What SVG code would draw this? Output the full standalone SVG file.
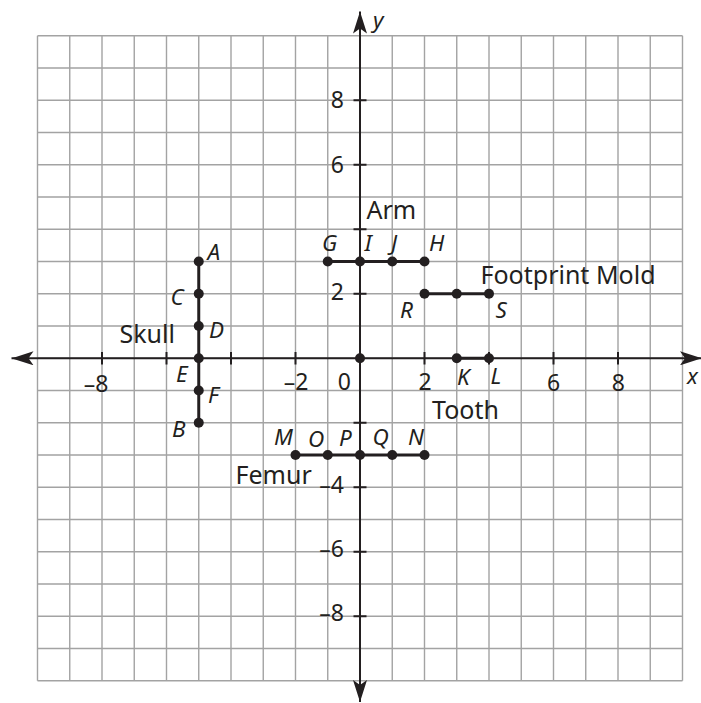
<svg xmlns="http://www.w3.org/2000/svg" width="701" height="703" viewBox="0 0 701 703">
<defs>
<style>
.grid{fill:none;stroke:#a3a3a3;stroke-width:1.4}
.axis{fill:none;stroke:#231f20;stroke-width:2}
.tick{fill:none;stroke:#231f20;stroke-width:2}
.seg{fill:none;stroke:#231f20;stroke-width:3}
.dot{fill:#231f20}
.num{font-family:"Noto Sans","DejaVu Sans",sans-serif;font-size:23px;fill:#231f20}
.lbl{font-family:"Noto Sans","DejaVu Sans",sans-serif;font-size:25px;fill:#231f20}
.pt{font-family:"Noto Sans","DejaVu Sans",sans-serif;font-size:22.5px;font-style:italic;fill:#231f20}
</style>
<marker id="arr" viewBox="0 0 22 14" refX="22" refY="7" markerWidth="22" markerHeight="14" markerUnits="userSpaceOnUse" orient="auto">
<path d="M22,7 L0,0 L5,7 L0,14 Z" fill="#231f20"/>
</marker>
</defs>
<rect width="701" height="703" fill="#ffffff"/>
<g id="grid">
<path class="grid" d="M37.5,35.8V680.8M69.75,35.8V680.8M102,35.8V680.8M134.25,35.8V680.8M166.5,35.8V680.8M198.75,35.8V680.8M231,35.8V680.8M263.25,35.8V680.8M295.5,35.8V680.8M327.75,35.8V680.8M360,35.8V680.8M392.25,35.8V680.8M424.5,35.8V680.8M456.75,35.8V680.8M489,35.8V680.8M521.25,35.8V680.8M553.5,35.8V680.8M585.75,35.8V680.8M618,35.8V680.8M650.25,35.8V680.8M682.5,35.8V680.8"/>
<path class="grid" d="M37.5,35.8H682.5M37.5,68.05H682.5M37.5,100.3H682.5M37.5,132.55H682.5M37.5,164.8H682.5M37.5,197.05H682.5M37.5,229.3H682.5M37.5,261.55H682.5M37.5,293.8H682.5M37.5,326.05H682.5M37.5,358.3H682.5M37.5,390.55H682.5M37.5,422.8H682.5M37.5,455.05H682.5M37.5,487.3H682.5M37.5,519.55H682.5M37.5,551.8H682.5M37.5,584.05H682.5M37.5,616.3H682.5M37.5,648.55H682.5M37.5,680.8H682.5"/>
</g>
<g id="axes">
<line class="axis" x1="360" y1="358.3" x2="11.5" y2="358.3" marker-end="url(#arr)"/>
<line class="axis" x1="360" y1="358.3" x2="702" y2="358.3" marker-end="url(#arr)"/>
<line class="axis" x1="360" y1="358.3" x2="360" y2="11.5" marker-end="url(#arr)"/>
<line class="axis" x1="360" y1="358.3" x2="360" y2="702" marker-end="url(#arr)"/>
<path class="tick" d="M102,352V364.6M166.5,352V364.6M231,352V364.6M295.5,352V364.6M424.5,352V364.6M489,352V364.6M553.5,352V364.6M618,352V364.6"/>
<path class="tick" d="M353.5,100.3H366.5M353.5,164.8H366.5M353.5,229.3H366.5M353.5,293.8H366.5M353.5,422.8H366.5M353.5,487.3H366.5M353.5,551.8H366.5M353.5,616.3H366.5"/>
<text class="num" x="344" y="108.3" text-anchor="end">8</text>
<text class="num" x="344" y="172.5" text-anchor="end">6</text>
<text class="num" x="344" y="300" text-anchor="end">2</text>
<text class="num" x="344" y="492.5" text-anchor="end">–4</text>
<text class="num" x="344" y="557" text-anchor="end">–6</text>
<text class="num" x="344" y="621.3" text-anchor="end">–8</text>
<text class="num" x="108.5" y="391.5" text-anchor="end">–8</text>
<text class="num" x="308.5" y="389.5" text-anchor="end">–2</text>
<text class="num" x="344.3" y="389.5" text-anchor="middle">0</text>
<text class="num" x="425" y="389.5" text-anchor="middle">2</text>
<text class="num" x="553.7" y="391" text-anchor="middle">6</text>
<text class="num" x="618.3" y="391" text-anchor="middle">8</text>
<text class="pt" x="687" y="384">x</text>
<text class="pt" x="373" y="28.3">y</text>
</g>
<g id="connectors">
<line class="seg" x1="198.75" y1="261.55" x2="198.75" y2="422.8"/>
<line class="seg" x1="327.75" y1="261.55" x2="424.5" y2="261.55"/>
<line class="seg" x1="424.5" y1="293.8" x2="489" y2="293.8"/>
<line class="seg" x1="456.75" y1="358.3" x2="489" y2="358.3"/>
<line class="seg" x1="295.5" y1="455.05" x2="424.5" y2="455.05"/>
</g>
<g id="skull">
<circle class="dot" cx="198.75" cy="261.55" r="5"/>
<circle class="dot" cx="198.75" cy="293.8" r="5"/>
<circle class="dot" cx="198.75" cy="326.05" r="5"/>
<circle class="dot" cx="198.75" cy="358.3" r="5"/>
<circle class="dot" cx="198.75" cy="390.55" r="5"/>
<circle class="dot" cx="198.75" cy="422.8" r="5"/>
<text class="pt" x="207.5" y="260">A</text>
<text class="pt" x="170.5" y="305">C</text>
<text class="pt" x="209" y="337.5">D</text>
<text class="pt" x="176" y="381.7">E</text>
<text class="pt" x="208" y="403.3">F</text>
<text class="pt" x="172" y="436.7">B</text>
<text class="lbl" x="119.5" y="343.3">Skull</text>
</g>
<g id="arm">
<circle class="dot" cx="327.75" cy="261.55" r="5"/>
<circle class="dot" cx="360" cy="261.55" r="5"/>
<circle class="dot" cx="392.25" cy="261.55" r="5"/>
<circle class="dot" cx="424.5" cy="261.55" r="5"/>
<text class="pt" x="322" y="250.7">G</text>
<text class="pt" x="364.5" y="250.7">I</text>
<text class="pt" x="391" y="250.7">J</text>
<text class="pt" x="429" y="250.7">H</text>
<text class="lbl" x="366.5" y="219.3">Arm</text>
</g>
<g id="footprint-mold">
<circle class="dot" cx="424.5" cy="293.8" r="5"/>
<circle class="dot" cx="456.75" cy="293.8" r="5"/>
<circle class="dot" cx="489" cy="293.8" r="5"/>
<text class="pt" x="400" y="318.3">R</text>
<text class="pt" x="495.5" y="318.3">S</text>
<text class="lbl" x="480.5" y="284">Footprint Mold</text>
</g>
<g id="tooth">
<circle class="dot" cx="360" cy="358.3" r="5"/>
<circle class="dot" cx="456.75" cy="358.3" r="5"/>
<circle class="dot" cx="489" cy="358.3" r="5"/>
<text class="pt" x="457" y="385">K</text>
<text class="pt" x="490.5" y="384.3">L</text>
<text class="lbl" x="432" y="419">Tooth</text>
</g>
<g id="femur">
<circle class="dot" cx="295.5" cy="455.05" r="5"/>
<circle class="dot" cx="327.75" cy="455.05" r="5"/>
<circle class="dot" cx="360" cy="455.05" r="5"/>
<circle class="dot" cx="392.25" cy="455.05" r="5"/>
<circle class="dot" cx="424.5" cy="455.05" r="5"/>
<text class="pt" x="274" y="445">M</text>
<text class="pt" x="308" y="446.5">O</text>
<text class="pt" x="339" y="446">P</text>
<text class="pt" x="372.5" y="445">Q</text>
<text class="pt" x="408" y="445">N</text>
<text class="lbl" x="235.5" y="484">Femur</text>
</g>
</svg>
